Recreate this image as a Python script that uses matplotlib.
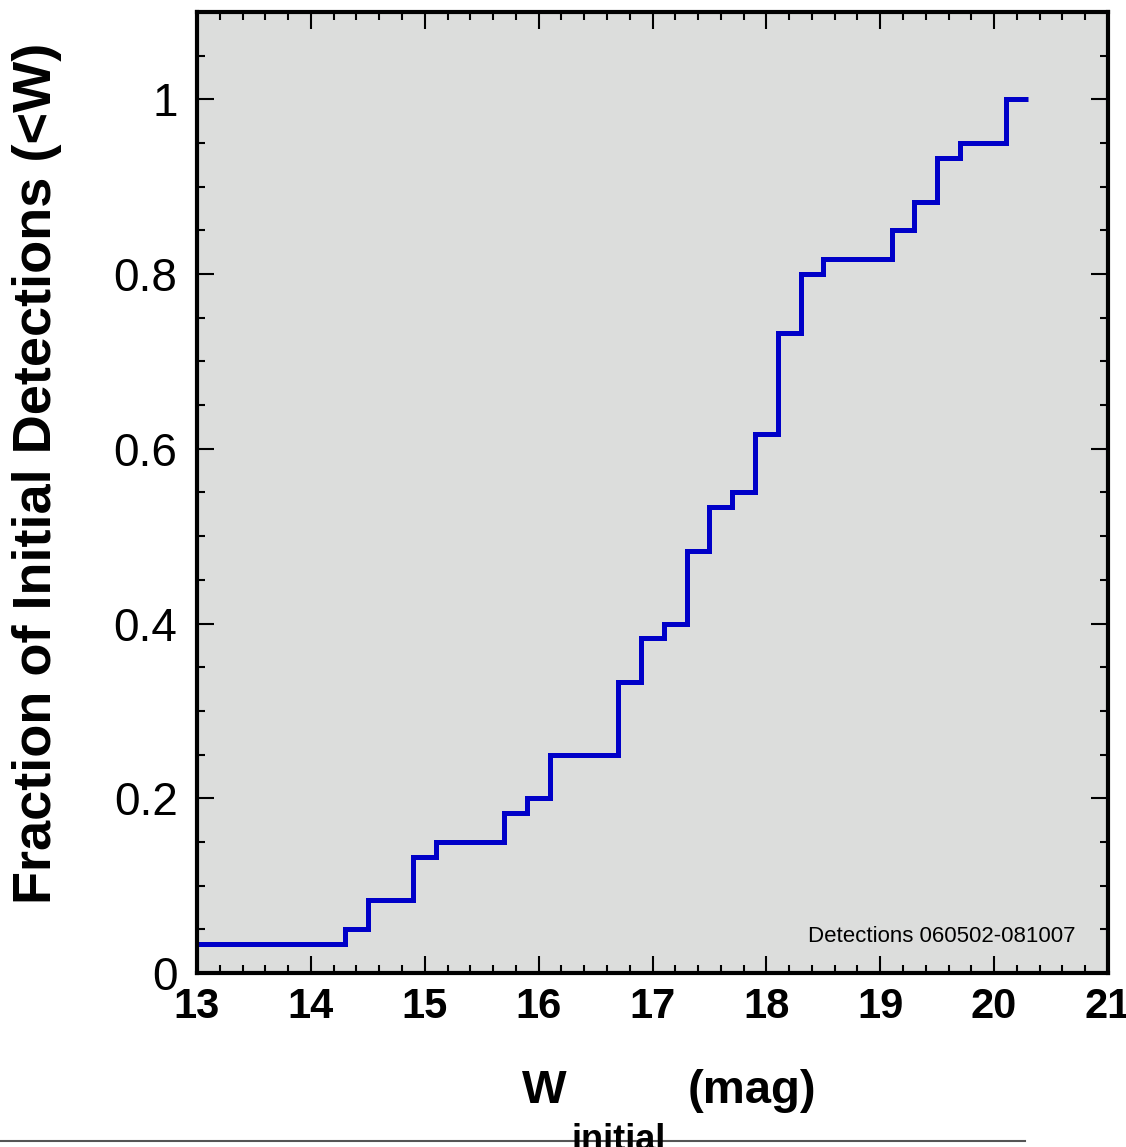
import matplotlib
matplotlib.use("Agg")
import matplotlib.pyplot as plt
from matplotlib.ticker import MultipleLocator, FixedLocator
from matplotlib.lines import Line2D

# ---- data ----
w_edges = [13.0, 14.3, 14.5, 14.9, 15.1, 15.7, 15.9, 16.1, 16.7, 16.9, 17.1,
           17.3, 17.5, 17.7, 17.9, 18.1, 18.3, 18.5, 19.1, 19.3, 19.5, 19.7,
           20.1, 20.3]
fraction = [0.033, 0.05, 0.083, 0.133, 0.15, 0.183, 0.2, 0.25, 0.333, 0.383,
            0.4, 0.483, 0.533, 0.55, 0.617, 0.733, 0.8, 0.817, 0.85, 0.883,
            0.933, 0.95, 1.0]
x_ticks = [13, 14, 15, 16, 17, 18, 19, 20, 21]
y_ticks = [0, 0.2, 0.4, 0.6, 0.8, 1.0]
y_tick_labels = ["0", "0.2", "0.4", "0.6", "0.8", "1"]
annotation = "Detections 060502-081007"

plt.rcParams['font.family'] = ['Liberation Sans', 'DejaVu Sans']

W, H = 1126, 1147
fig = plt.figure(figsize=(W / 100, H / 100), dpi=100)
ax = fig.add_axes([197 / W, 1 - 973 / H, (1108 - 197) / W, (973 - 12) / H])
ax.set_facecolor('#dcdddc')

ax.stairs(fraction, w_edges, baseline=None, color='#0000c8', linewidth=3.6)

ax.set_xlim(13, 21)
ax.set_ylim(0, 1.1)
ax.xaxis.set_major_locator(FixedLocator(x_ticks))
ax.xaxis.set_minor_locator(MultipleLocator(0.2))
ax.yaxis.set_major_locator(FixedLocator(y_ticks))
ax.yaxis.set_minor_locator(MultipleLocator(0.05))
ax.set_xticklabels([str(t) for t in x_ticks], fontsize=30, fontweight='bold')
ax.set_yticklabels(y_tick_labels, fontsize=33)

for s in ax.spines.values():
    s.set_linewidth(3.0)
    s.set_color('black')

ax.tick_params(which='both', direction='in', top=True, right=True, width=1.5,
               color='black')
ax.tick_params(which='major', length=12)
ax.tick_params(which='minor', length=6)
ax.tick_params(axis='x', which='major', pad=10)
ax.tick_params(axis='y', which='major', pad=14)

ax.set_ylabel("Fraction of Initial Detections (<W)", fontsize=39,
              fontweight='bold', va='center', ha='center')
ax.yaxis.set_label_coords(-0.176, 0.52)

ax.text(0.964, 0.032, annotation, transform=ax.transAxes, ha='right',
        va='baseline', fontsize=16)

# x label: W with dropped subscript, then (mag)
fig.text(522 / W, 1 - 1103 / H, "W", fontsize=34, fontweight='bold',
         ha='left', va='baseline')
fig.text(572 / W, 1 - 1150 / H, "initial", fontsize=26, fontweight='bold',
         ha='left', va='baseline')
fig.text(688 / W, 1 - 1103 / H, "(mag)", fontsize=34, fontweight='bold',
         ha='left', va='baseline')

fig.add_artist(Line2D([0, 1025 / W], [1 - 1141 / H, 1 - 1141 / H],
                      transform=fig.transFigure, color='#555555', lw=1.5))

fig.savefig("out.png", dpi=100, facecolor='white')
